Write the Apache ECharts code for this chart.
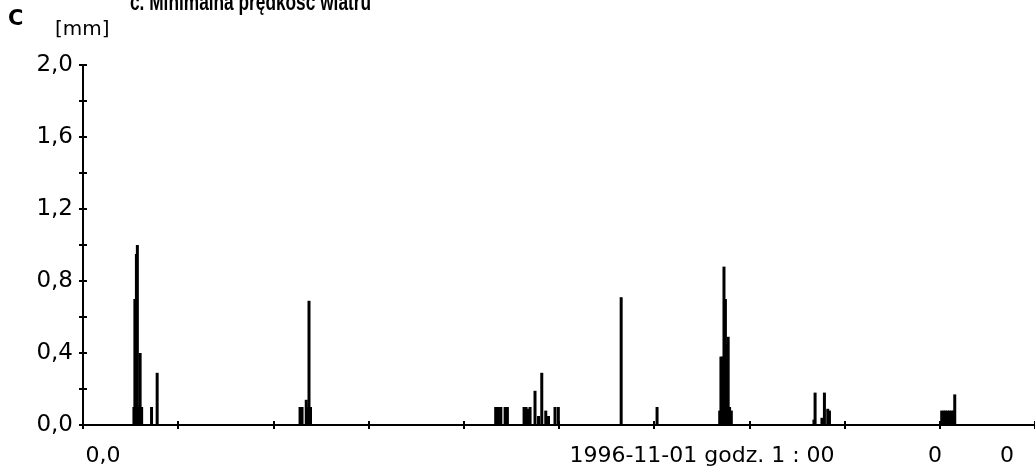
<!DOCTYPE html>
<html><head><meta charset="utf-8">
<script src="https://cdn.jsdelivr.net/npm/echarts@6/dist/echarts.min.js"></script>
<style>html,body{margin:0;padding:0;background:#fff}#c{width:1035px;height:474px}</style>
</head><body><div id="c"></div>
<script>
// ---- data ----
const titleText = 'c. Minimalna prędkość wiatru';
const panelLetter = 'C';
const unitLabel = '[mm]';
const yTickValues = [0, 0.4, 0.8, 1.2, 1.6, 2.0];
const xBottomLabels = ['0,0', '1996-11-01 godz. 1 : 00', '0', '0'];
// time position (axis units, 10 tick intervals) and rainfall [mm]
const rainX = [
  0.535, 0.545, 0.561, 0.571, 0.587, 0.600, 0.616, 0.720, 0.779,
  2.280, 2.301, 2.345, 2.364, 2.374, 2.390,
  4.335, 4.364, 4.389, 4.434, 4.458, 4.633, 4.654, 4.675, 4.696, 4.748, 4.785, 4.819, 4.861, 4.890, 4.958, 4.993,
  5.653, 6.030,
  6.688, 6.701, 6.716, 6.733, 6.748, 6.761, 6.777, 6.792, 6.810,
  7.678, 7.690, 7.762, 7.788, 7.823, 7.841,
  9.020, 9.041, 9.061, 9.082, 9.103, 9.124, 9.145, 9.157
];
const rainMm = [
  0.10, 0.70, 0.95, 1.00, 0.10, 0.40, 0.10, 0.10, 0.29,
  0.10, 0.10, 0.14, 0.10, 0.69, 0.10,
  0.10, 0.10, 0.10, 0.10, 0.10, 0.10, 0.10, 0.09, 0.10, 0.19, 0.05, 0.29, 0.08, 0.05, 0.10, 0.10,
  0.71, 0.10,
  0.08, 0.38, 0.38, 0.88, 0.70, 0.45, 0.49, 0.10, 0.08,
  0.03, 0.18, 0.04, 0.18, 0.09, 0.08,
  0.08, 0.08, 0.08, 0.08, 0.08, 0.08, 0.08, 0.17
];

// ---- chart ----
const chart = echarts.init(document.getElementById('c'), null, {renderer: 'canvas'});
const axisFont = 'DejaVu Sans';
const tickStyle = {color: '#000', width: 2};
const fmtY = v => yTickValues.some(t => Math.abs(t - v) < 1e-6) ? v.toFixed(1).replace('.', ',') : '';

const bottomLabelPos = [103, 702, 935, 1007];
const graphics = [
  {type: 'text', x: 130, y: 3, scaleX: 0.72, style: {text: titleText, font: 'bold 24px "Liberation Sans"', fill: '#000', verticalAlign: 'middle'}},
  {type: 'text', x: 8, y: 20, style: {text: panelLetter, font: 'bold 21px "DejaVu Sans"', fill: '#000', verticalAlign: 'middle'}},
  {type: 'text', x: 55, y: 30, style: {text: unitLabel, font: '20px "DejaVu Sans"', fill: '#000', verticalAlign: 'middle'}}
];
xBottomLabels.forEach((t, i) => graphics.push({
  type: 'text', x: bottomLabelPos[i], y: 456,
  style: {text: t, font: '22px "DejaVu Sans"', fill: '#000', align: 'center', verticalAlign: 'middle'}
}));

chart.setOption({
  animation: false,
  backgroundColor: '#fff',
  grid: {left: 83, top: 65, width: 954, height: 360, containLabel: false},
  xAxis: [{
    type: 'value', min: 0, max: 10, interval: 1, position: 'bottom',
    axisLine: {show: true, onZero: false, lineStyle: {color: '#000', width: 2}},
    axisTick: {show: true, length: 4, lineStyle: tickStyle},
    axisLabel: {show: false}, splitLine: {show: false}
  }, {
    type: 'value', min: 0, max: 10, interval: 1, position: 'bottom', offset: 0,
    axisLine: {show: false},
    axisTick: {show: true, inside: true, length: 4, lineStyle: tickStyle},
    axisLabel: {show: false}, splitLine: {show: false}
  }],
  yAxis: [{
    type: 'value', min: 0, max: 2, interval: 0.2, position: 'left',
    axisLine: {show: true, onZero: false, lineStyle: {color: '#000', width: 2}},
    axisTick: {show: true, length: 4, lineStyle: tickStyle},
    axisLabel: {formatter: fmtY, color: '#000', fontFamily: axisFont, fontSize: 23, margin: 10},
    splitLine: {show: false}
  }, {
    type: 'value', min: 0, max: 2, interval: 0.2, position: 'left', offset: 0,
    axisLine: {show: false},
    axisTick: {show: true, inside: true, length: 4, lineStyle: tickStyle},
    axisLabel: {show: false}, splitLine: {show: false}
  }],
  series: [{
    type: 'bar', xAxisIndex: 0, yAxisIndex: 0,
    barWidth: 3,
    itemStyle: {color: '#000'},
    data: rainX.map((x, i) => [x, rainMm[i]])
  }],
  graphic: graphics
});
</script>
</body></html>
